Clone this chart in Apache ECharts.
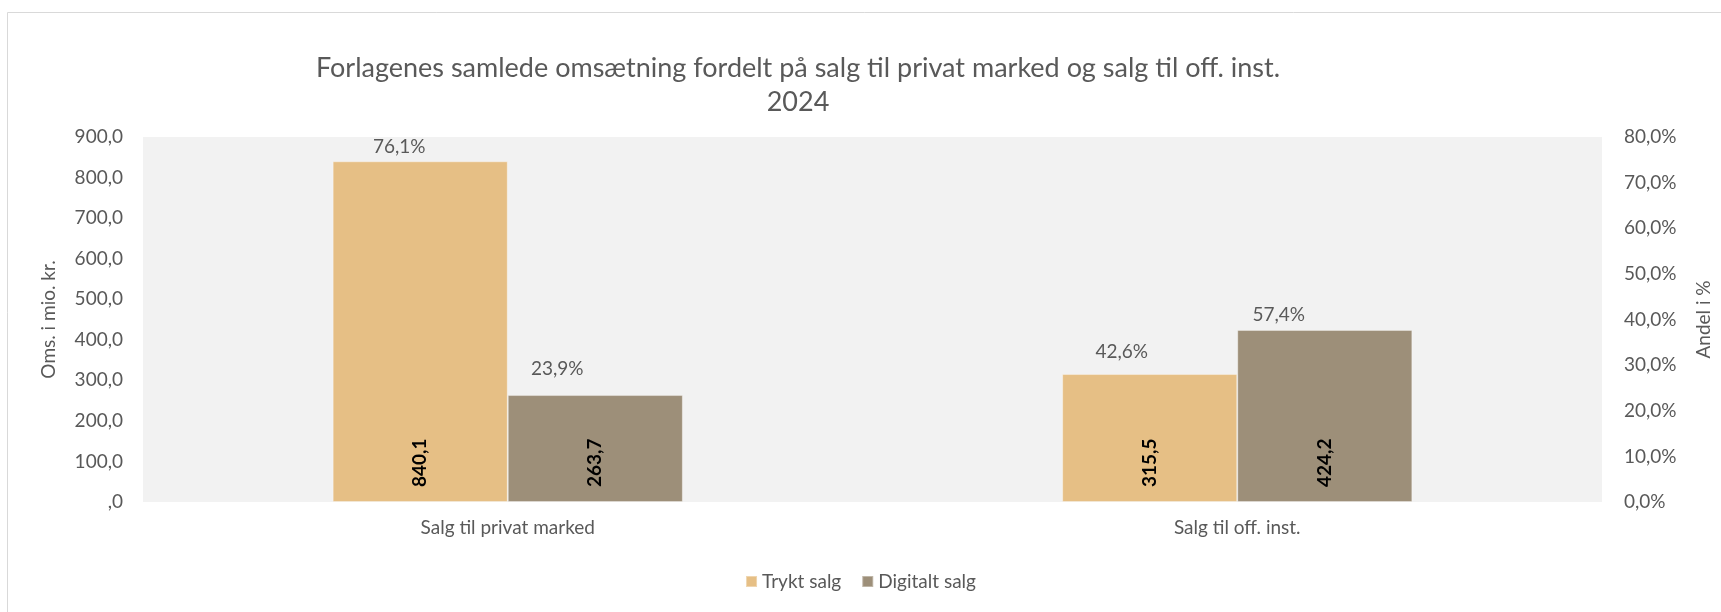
<!DOCTYPE html>
<html>
<head>
<meta charset="utf-8">
<script src="https://cdn.jsdelivr.net/npm/echarts@6/dist/echarts.min.js"></script>
<style>
  html, body { margin: 0; padding: 0; background: #fff; }
  #chart { width: 1721px; height: 612px; }
</style>
</head>
<body>
<div id="chart"></div>
<script>
// data
var categories = ['Salg til privat marked', 'Salg til off. inst.'];
var seriesNames = ['Trykt salg', 'Digitalt salg'];
var trykt = [840.1, 315.5];
var digitalt = [263.7, 424.2];
var tryktShare = [76.1, 42.6];
var digitaltShare = [23.9, 57.4];

// label nudges (styling only)
var tryktOffsets = [[-21, -4], [-28, -12]];
var digitaltOffsets = [[-38, -16], [-46, -5]];

var font = 'Lato';
var grey = '#595959';

function comma(v) {
    var s = v.toFixed(1).replace('.', ',');
    return s === '0,0' ? ',0' : s;
}

function makeSeries(name, values, shares, offsets, color) {
    return {
        name: name,
        type: 'bar',
        barGap: '0%',
        barCategoryGap: '52%',
        itemStyle: { color: color, borderColor: 'rgba(255,255,255,0.35)', borderWidth: 1 },
        label: {
            show: true,
            position: 'insideBottom',
            distance: 15,
            rotate: 90,
            align: 'left',
            verticalAlign: 'middle',
            fontFamily: font,
            fontWeight: 'bold',
            fontSize: 19,
            color: '#000',
            formatter: function (p) { return comma(p.value); }
        },
        data: values,
        markPoint: {
            symbol: 'circle',
            symbolSize: 0,
            silent: true,
            label: {
                show: true,
                position: 'top',
                distance: 0,
                fontFamily: font,
                fontSize: 19,
                lineHeight: 20,
                color: grey,
                formatter: function (p) { return p.data.share; }
            },
            data: values.map(function (v, i) {
                return {
                    coord: [i, v],
                    share: shares[i].toFixed(1).replace('.', ',') + '%',
                    label: { offset: offsets[i] }
                };
            })
        }
    };
}

var myChart = echarts.init(document.getElementById('chart'));
var option = {
    backgroundColor: '#fff',
    animation: false,
    textStyle: { fontFamily: font },
    title: {
        text: 'Forlagenes samlede omsætning fordelt på salg til privat marked og salg til off. inst.\n2024',
        left: 793,
        top: 46,
        textAlign: 'center',
        textStyle: { fontFamily: font, fontSize: 27, fontWeight: 'normal', color: grey, lineHeight: 34 }
    },
    legend: {
        data: seriesNames,
        left: 'center',
        top: 567,
        itemWidth: 11,
        itemHeight: 11,
        itemGap: 20,
        icon: 'rect',
        textStyle: { fontFamily: font, fontSize: 19, color: grey }
    },
    grid: {
        left: 143,
        right: 115,
        top: 137,
        bottom: 110,
        show: true,
        backgroundColor: '#F2F2F2',
        borderWidth: 0
    },
    xAxis: {
        type: 'category',
        data: categories,
        axisLine: { show: false },
        axisTick: { show: false },
        axisLabel: { margin: 16, fontFamily: font, fontSize: 19, color: grey }
    },
    yAxis: [
        {
            type: 'value',
            min: 0,
            max: 900,
            interval: 100,
            name: 'Oms. i mio. kr.',
            nameLocation: 'middle',
            nameRotate: 90,
            nameGap: 85,
            nameTextStyle: { fontFamily: font, fontSize: 19, color: grey },
            splitLine: { show: false },
            axisLine: { show: false },
            axisTick: { show: false },
            axisLabel: { margin: 20, fontFamily: font, fontSize: 19, color: grey, formatter: comma }
        },
        {
            type: 'value',
            min: 0,
            max: 80,
            interval: 10,
            position: 'right',
            name: 'Andel i %',
            nameLocation: 'middle',
            nameRotate: 90,
            nameGap: 92,
            nameTextStyle: { fontFamily: font, fontSize: 19, color: grey },
            splitLine: { show: false },
            axisLine: { show: false },
            axisTick: { show: false },
            axisLabel: {
                margin: 22, fontFamily: font, fontSize: 19, color: grey,
                formatter: function (v) { return v.toFixed(1).replace('.', ',') + '%'; }
            }
        }
    ],
    graphic: [{
        type: 'rect',
        silent: true,
        shape: { x: 7.5, y: 12.5, width: 1730, height: 620 },
        style: { fill: 'none', stroke: '#d9d9d9', lineWidth: 1 }
    }],
    series: [
        makeSeries(seriesNames[0], trykt, tryktShare, tryktOffsets, '#E6BF85'),
        makeSeries(seriesNames[1], digitalt, digitaltShare, digitaltOffsets, '#9D8F79')
    ]
};
myChart.setOption(option);
</script>
</body>
</html>
